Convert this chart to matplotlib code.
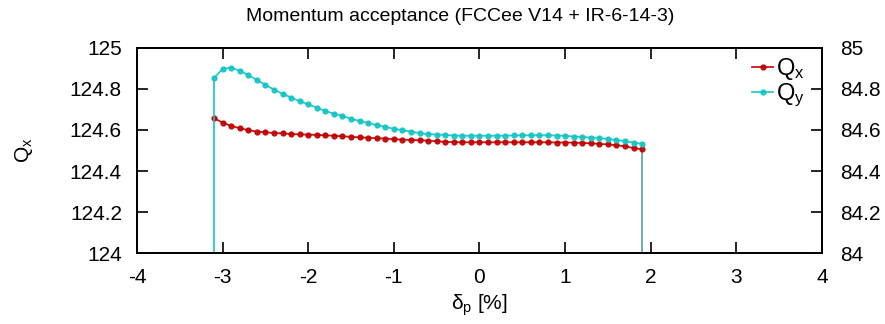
### Momentum acceptance plot (Qx / Qy vs dp)
import matplotlib
matplotlib.use("Agg")
import matplotlib.pyplot as plt
import numpy as np

plt.rcParams['font.family'] = ['Liberation Sans', 'DejaVu Sans']
plt.rcParams['mathtext.fontset'] = 'custom'
plt.rcParams['mathtext.rm'] = 'Liberation Sans'
plt.rcParams['mathtext.it'] = 'Liberation Sans'

# --- data --- #
dp = [-3.1, -3.0, -2.9, -2.8, -2.7, -2.6, -2.5, -2.4, -2.3, -2.2,
      -2.1, -2.0, -1.9, -1.8, -1.7, -1.6, -1.5, -1.4, -1.3, -1.2,
      -1.1, -1.0, -0.9, -0.8, -0.7, -0.6, -0.5, -0.4, -0.3, -0.2,
      -0.1, 0.0, 0.1, 0.2, 0.3, 0.4, 0.5, 0.6, 0.7, 0.8,
      0.9, 1.0, 1.1, 1.2, 1.3, 1.4, 1.5, 1.6, 1.7, 1.8, 1.9]

qx = [124.657, 124.636, 124.620, 124.609, 124.599, 124.592, 124.589, 124.585, 124.584, 124.580,
      124.579, 124.577, 124.576, 124.574, 124.572, 124.569, 124.567, 124.564, 124.562, 124.560,
      124.558, 124.555, 124.553, 124.551, 124.550, 124.548, 124.545, 124.542, 124.541, 124.540,
      124.540, 124.540, 124.540, 124.540, 124.540, 124.540, 124.540, 124.540, 124.540, 124.540,
      124.539, 124.539, 124.538, 124.537, 124.535, 124.532, 124.530, 124.525, 124.521, 124.512, 124.506]

qy = [84.854, 84.898, 84.904, 84.889, 84.868, 84.844, 84.820, 84.797, 84.777, 84.758,
      84.741, 84.725, 84.709, 84.692, 84.680, 84.668, 84.655, 84.644, 84.634, 84.624,
      84.615, 84.606, 84.599, 84.592, 84.585, 84.580, 84.578, 84.576, 84.573, 84.572,
      84.572, 84.572, 84.572, 84.572, 84.572, 84.574, 84.574, 84.574, 84.574, 84.574,
      84.573, 84.572, 84.568, 84.566, 84.563, 84.561, 84.556, 84.551, 84.546, 84.538, 84.533]

xticks = [-4, -3, -2, -1, 0, 1, 2, 3, 4]
yticks_l = [124, 124.2, 124.4, 124.6, 124.8, 125]
yticks_r = [84, 84.2, 84.4, 84.6, 84.8, 85]

red = '#c00000'
cyan = '#14c4c4'

fig = plt.figure(figsize=(8.85, 3.24), dpi=100)
ax = fig.add_axes([0.1548, 0.2191, 0.7740, 0.6328])
ax2 = ax.twinx()

# edges drop to zero -> vertical lines at first / last point
ax.vlines(dp[-1], 124, qx[-1], color='#5a9c9e', lw=1.2, zorder=1)
ax2.vlines(dp[0], 84, qy[0], color=cyan, lw=1.2, zorder=1)

l1, = ax.plot(dp, qx, color=red, lw=1.3, marker='o', ms=3.5, alpha=0.9, label=r'Q$_\mathrm{x}$')
l2, = ax2.plot(dp, qy, color=cyan, lw=1.3, marker='o', ms=3.5, alpha=0.9, label=r'Q$_\mathrm{y}$')

ax.set_xlim(-4, 4)
ax.set_ylim(124, 125)
ax2.set_ylim(84, 85)

ax.set_xticks(xticks)
ax.set_xticklabels(['%g' % t for t in xticks])
ax.set_yticks(yticks_l)
ax.set_yticklabels(['%g' % t for t in yticks_l])
ax2.set_yticks(yticks_r)
ax2.set_yticklabels(['%g' % t for t in yticks_r])

ax.tick_params(axis='x', direction='in', length=8, width=1.2, top=True, bottom=True, labelsize=15, pad=11)
ax.tick_params(axis='y', direction='in', length=8, width=1.2, left=True, right=False, labelsize=15, pad=10.8)
ax2.tick_params(axis='y', direction='in', length=8, width=1.2, right=True, labelsize=15, pad=13)

for a in (ax, ax2):
    for s in a.spines.values():
        s.set_linewidth(1.3)

ax.set_xlabel(r'$\delta_\mathrm{p}$ [%]', fontsize=15, labelpad=4)
ax.set_ylabel(r'Q$_\mathrm{x}$', fontsize=15, labelpad=25)
fig.text(0.52, 0.95, 'Momentum acceptance (FCCee V14 + IR-6-14-3)', ha='center', va='center', fontsize=14)

leg = ax2.legend(handles=[l1, l2], loc='upper right', frameon=False, fontsize=17,
                 handlelength=0.9, handletextpad=0.1, labelspacing=0.0,
                 borderaxespad=0.2, bbox_to_anchor=(0.995, 1.03))

fig.savefig('out.png', dpi=100)
